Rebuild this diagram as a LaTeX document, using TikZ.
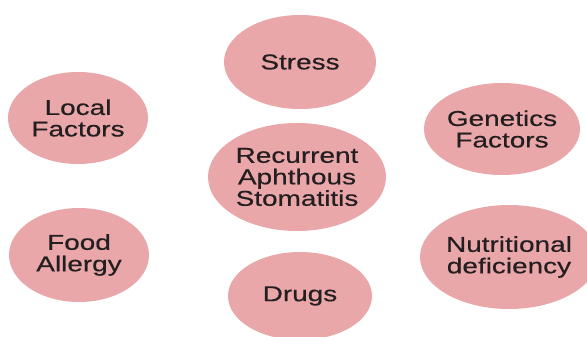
\documentclass[tikz,border=0pt]{standalone}
\usepackage{fontspec}
\setmainfont[FakeStretch=1.3,FakeBold=0.4]{Liberation Sans}
\usetikzlibrary{shapes.geometric}
\definecolor{blob}{RGB}{233,167,170}
\definecolor{ink}{RGB}{35,30,32}
\begin{document}
\begin{tikzpicture}[x=1pt,y=-1pt,
  blobnode/.style={ellipse,fill=blob,draw=none,inner sep=0pt,align=center,
    text=ink,font=\fontsize{21.5}{21.5}\selectfont}]
\useasboundingbox (0,0) rectangle (587,337);
\fill[white] (0,0) rectangle (587,337);
\node[blobnode,minimum width=152pt,minimum height=94pt] (stress) at (300,62) {Stress};
\node[blobnode,minimum width=140pt,minimum height=92pt] (local) at (78,118) {Local\\Factors};
\node[blobnode,minimum width=154pt,minimum height=92pt] (genetics) at (502,129) {Genetics\\Factors};
\node[blobnode,minimum width=178pt,minimum height=108pt] (ras) at (297,177) {Recurrent\\Aphthous\\Stomatitis};
\node[blobnode,minimum width=140pt,minimum height=94pt] (food) at (79,255) {Food\\Allergy};
\node[blobnode,minimum width=156pt,minimum height=104pt] (nutri) at (509,257) {Nutritional\\deficiency};
\node[blobnode,minimum width=144pt,minimum height=88pt] (drugs) at (300,296) {Drugs};
\end{tikzpicture}
\end{document}
